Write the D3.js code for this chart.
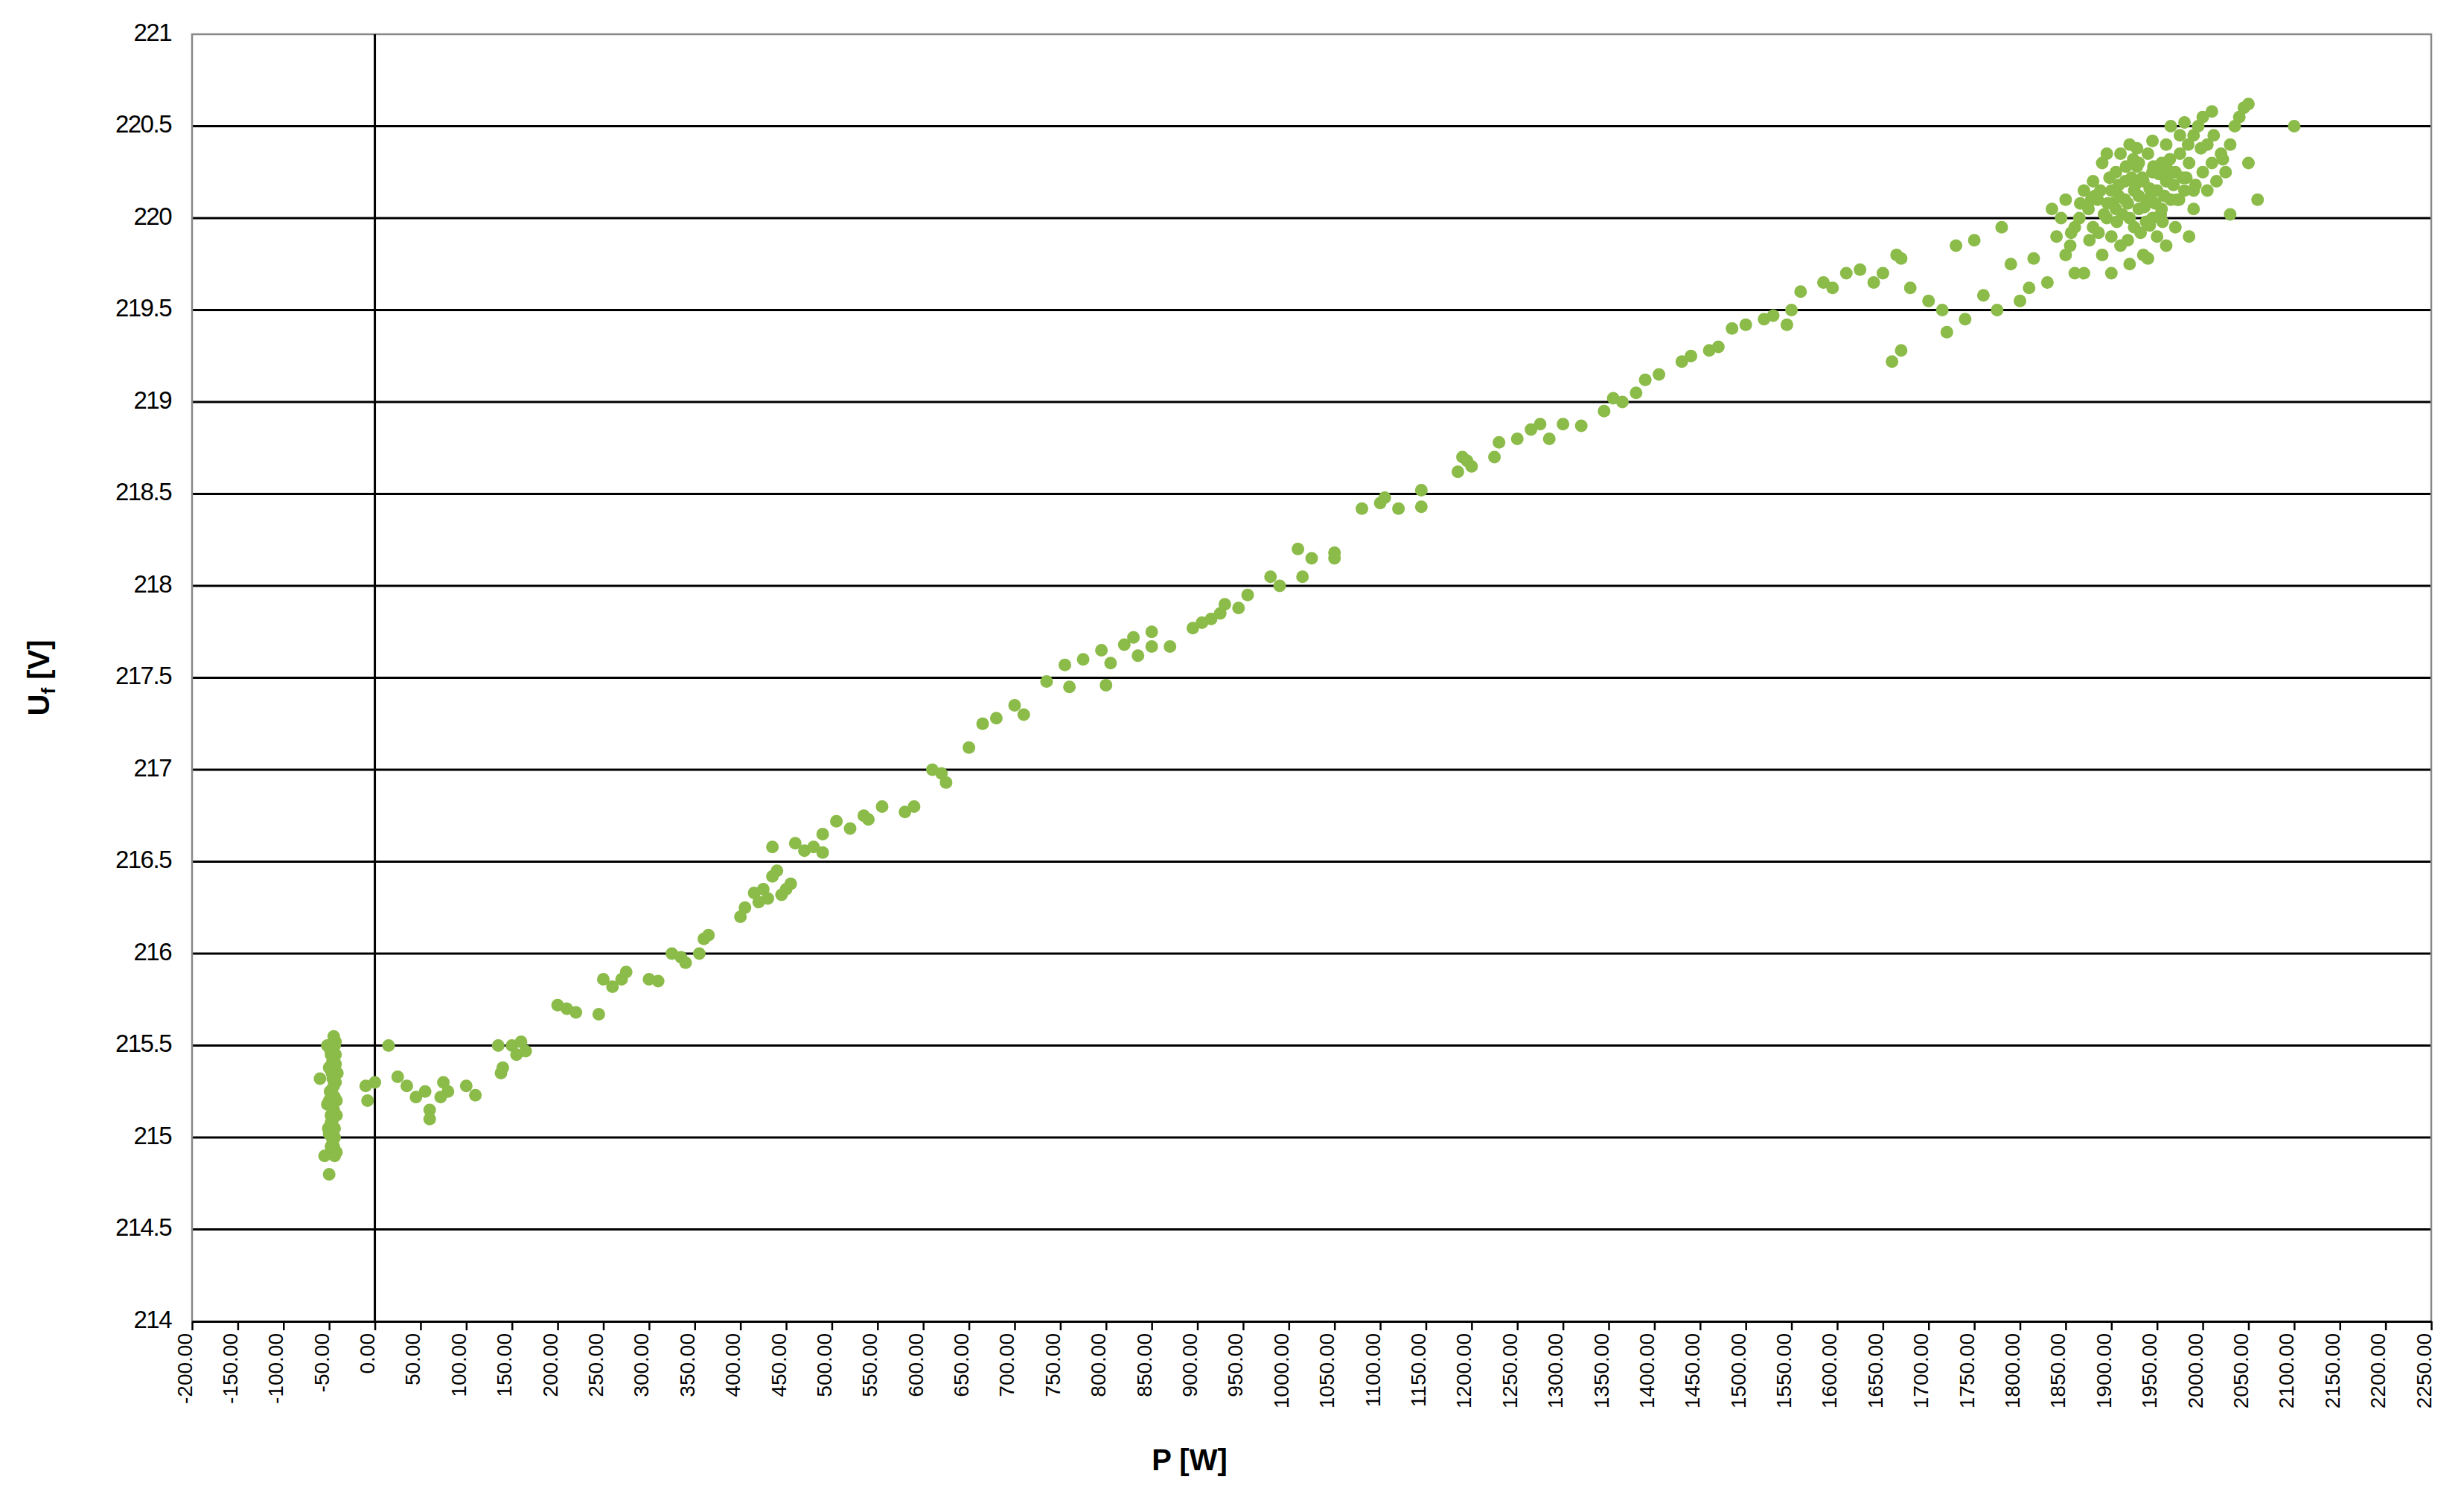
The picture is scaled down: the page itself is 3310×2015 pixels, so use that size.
<!DOCTYPE html>
<html><head><meta charset="utf-8">
<script src="https://cdn.jsdelivr.net/npm/d3@7"></script>
<style>body{margin:0;background:#fff}svg{font-family:"Liberation Sans",Arial,sans-serif}</style>
</head><body>
<svg id="c" width="3310" height="2015"></svg>
<script>
const xTicks = d3.range(-200, 2251, 50);
const yTicks = d3.range(214, 221.01, 0.5);
const P = [-60,-55,-50,-52,-48,-45,-47,-43,-50,-46,-44,-48,-42,-51,-49,-45,-43,-47,-44,-46,-42,-50,-48,-45,-43,-52,-46,-44,-41,-47,-49,-44,-46,-42,-48,-45,-43,-50,-47,-44,
-10,-8,0,15,25,35,45,55,60,60,75,80,72,100,110,135,140,138,150,155,160,165,200,210,220,245,250,260,270,275,300,310,325,335,340,355,360,365,400,405,415,420,425,430,435,435,440,445,450,455,460,470,480,490,490,505,520,535,540,555,580,590,610,620,625,650,665,680,700,710,735,755,760,775,795,805,800,820,830,835,850,850,870,895,905,915,925,930,945,955,980,990,1010,1015,1025,1050,1050,1080,1100,1105,1120,1145,1145,1185,1190,1195,1200,1225,1230,1250,1265,1275,1285,1300,1320,1345,1355,1365,1380,1390,1405,1430,1440,1460,1470,1485,1500,1520,1530,1545,1550,1560,1585,1595,1610,1625,1640,1650,1665,1670,1660,1670,1680,1700,1715,1720,1730,1740,1750,1760,1775,1780,1790,1800,1810,1815,1830,1835,1840,1850,1855,1860,1865,1870,
1875,1880,1880,1885,1890,1890,1895,1900,1900,1905,1905,1910,1910,1915,1915,1920,1920,1925,1925,1930,1930,1935,1935,1940,1940,1945,1945,1950,1950,1955,1955,1960,1960,1965,1970,1970,1975,1980,1985,1990,1990,1995,2000,2000,2005,2010,2010,2015,2020,2025,2030,2035,2040,2045,2050,2050,2030,2060,2100,1985,1960,1940,1920,1900,1870,1860,1850,1845,1895,1945,1975,1965,1980,2005,1930,1912,1922,1948,1958,1968,1902,1888,1878,1928,1938,
1882,1892,1898,1908,1918,1926,1934,1942,1952,1962,1972,1982,1992,1886,1896,1906,1916,1924,1936,1944,1954,1964,1974,1984,1876,1866,1856,1918,1932,1942,1956,1990,2012,2022,1998,1908,1928,1946,1962,1978];
const U = [215.32,214.9,214.8,215.5,215.45,215.55,215.4,215.3,215.2,215.1,215.0,214.95,214.92,215.05,215.25,215.15,215.45,215.35,215.22,214.98,215.12,215.38,215.08,215.28,215.52,215.18,215.42,214.9,215.35,215.0,215.48,215.05,215.32,215.2,215.12,214.95,215.4,215.02,215.26,215.5,
215.28,215.2,215.3,215.5,215.33,215.28,215.22,215.25,215.15,215.1,215.3,215.25,215.22,215.28,215.23,215.5,215.38,215.35,215.5,215.45,215.52,215.47,215.72,215.7,215.68,215.67,215.86,215.82,215.86,215.9,215.86,215.85,216.0,215.98,215.95,216.0,216.08,216.1,216.2,216.25,216.33,216.28,216.35,216.3,216.42,216.58,216.45,216.32,216.35,216.38,216.6,216.56,216.58,216.55,216.65,216.72,216.68,216.75,216.73,216.8,216.77,216.8,217.0,216.98,216.93,217.12,217.25,217.28,217.35,217.3,217.48,217.57,217.45,217.6,217.65,217.58,217.46,217.68,217.72,217.62,217.75,217.67,217.67,217.77,217.8,217.82,217.85,217.9,217.88,217.95,218.05,218.0,218.2,218.05,218.15,218.18,218.15,218.42,218.45,218.48,218.42,218.43,218.52,218.62,218.7,218.68,218.65,218.7,218.78,218.8,218.85,218.88,218.8,218.88,218.87,218.95,219.02,219.0,219.05,219.12,219.15,219.22,219.25,219.28,219.3,219.4,219.42,219.45,219.47,219.42,219.5,219.6,219.65,219.62,219.7,219.72,219.65,219.7,219.8,219.78,219.22,219.28,219.62,219.55,219.5,219.38,219.85,219.45,219.88,219.58,219.5,219.95,219.75,219.55,219.62,219.78,219.65,220.05,219.9,220.1,219.85,219.7,220.0,220.15,
220.05,219.95,220.2,220.1,219.8,220.3,220.0,220.15,219.9,220.25,220.05,220.35,219.85,220.1,220.2,220.0,220.4,220.15,219.95,220.3,220.05,220.2,219.8,220.1,220.35,220.0,220.25,220.15,219.9,220.3,220.05,220.2,220.4,220.1,220.25,219.95,220.35,220.15,220.3,220.45,220.05,220.5,220.55,220.25,220.4,220.3,220.58,220.2,220.35,220.25,220.4,220.5,220.55,220.6,220.62,220.3,220.02,220.1,220.5,219.9,219.85,219.78,219.75,219.7,219.7,219.95,219.8,220.0,220.35,220.42,220.45,220.5,220.52,220.15,220.12,220.02,220.22,220.08,220.12,220.18,220.08,220.15,220.1,220.28,219.98,
220.12,220.02,220.22,220.12,220.08,220.18,220.22,220.16,220.24,220.2,220.1,220.22,220.18,219.92,220.08,219.98,220.28,220.32,220.06,220.14,220.02,220.32,220.1,220.4,219.88,220.08,219.92,219.88,219.92,219.96,219.98,220.15,220.45,220.32,220.38,220.18,220.38,220.28,220.26,220.22];

const svg = d3.select("#c");
const L=258,R=3266,T=46,B=1775;
const x = d3.scaleLinear().domain([-200,2250]).range([L,R]);
const y = d3.scaleLinear().domain([214,221]).range([B,T]);

svg.append("g").selectAll("line").data(yTicks.slice(1,-1)).join("line")
 .attr("x1",L).attr("x2",R).attr("y1",d=>y(d)).attr("y2",d=>y(d)).attr("stroke","#000").attr("stroke-width",3);
svg.append("path").attr("d",`M${L},${B}V${T}H${R}V${B}`).attr("fill","none").attr("stroke","#888").attr("stroke-width",2.5);
svg.append("line").attr("x1",x(0)).attr("x2",x(0)).attr("y1",T).attr("y2",B).attr("stroke","#000").attr("stroke-width",3);

svg.append("g").selectAll("circle").data(P.map((p,i)=>[p,U[i]])).join("circle")
 .attr("cx",d=>x(d[0])).attr("cy",d=>y(d[1])).attr("r",8.5).attr("fill","#8bbb48");

const xa = svg.append("g").attr("transform",`translate(0,${B})`)
 .call(d3.axisBottom(x).tickValues(xTicks).tickFormat(d=>d3.format(".2f")(d).replace("−","-")).tickSize(12).tickSizeOuter(0));
xa.select(".domain").attr("stroke","#000").attr("stroke-width",3);
xa.selectAll(".tick line").attr("stroke","#000").attr("stroke-width",2.5);
xa.selectAll("text").attr("font-size",28).attr("fill","#000")
 .attr("transform","rotate(-90)").attr("text-anchor","end").attr("dx","-16").attr("dy","-0.3em").attr("y",0).attr("x",0)
 .style("dominant-baseline","middle");
svg.append("g").selectAll("text").data(yTicks).join("text")
 .attr("x",L-28).attr("y",d=>y(d)).attr("text-anchor","end").attr("dominant-baseline","middle")
 .attr("font-size",33).attr("letter-spacing","-1.5").text(d=>String(+d.toFixed(1)));

svg.append("text").attr("x",1598).attr("y",1975).attr("text-anchor","middle").attr("font-size",40).attr("font-weight","bold").text("P [W]");
const yt = svg.append("text").attr("transform",`translate(66,${(T+B)/2}) rotate(-90)`).attr("text-anchor","middle").attr("font-size",40).attr("font-weight","bold");
yt.append("tspan").text("U");
yt.append("tspan").attr("font-size",26).attr("dy",8).text("f");
yt.append("tspan").attr("dy",-8).text(" [V]");
</script></body></html>
